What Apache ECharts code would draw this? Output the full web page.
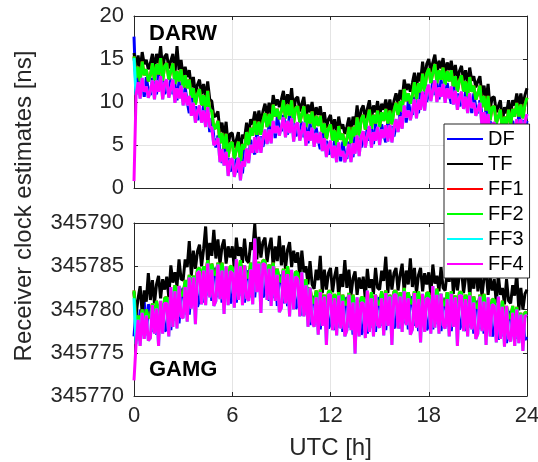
<!DOCTYPE html>
<html><head><meta charset="utf-8">
<script src="https://cdn.jsdelivr.net/npm/echarts@6/dist/echarts.min.js"></script>
<style>html,body{margin:0;padding:0;background:#fff}#c{width:538px;height:462px}</style>
</head><body><div id="c"></div>
<script>
// ---------------- data ----------------
const SERIES_NAMES = ['DF', 'TF', 'FF1', 'FF2', 'FF3', 'FF4'];
const HOUR_TICKS = [0, 6, 12, 18, 24];
const DARW_TICKS = [0, 5, 10, 15, 20];
const GAMG_TICKS = [345770, 345775, 345780, 345785, 345790];
const SAMPLE_STEP_H = 0.125;      // one sample every 7.5 min, 0..24 h
const GAMG_BASE = 345770;         // GAMG arrays are given above this value [ns]

// DARW [ns], one row per hour (8 samples) + final sample at 24 h
const darwDF = [
17.6,10.9,12.9,11.1,12.4,10.6,12.9,11.4, 10.8,12.8,11.6,10.9,13.4,11.7,12.4,10.9,
11.9,10.8,12.7,10.9,12.1,10.2,12.4,10.8, 10.1,11.7,10.0,8.7,10.8,8.9,9.5,7.9,
8.8,7.7,9.6,7.8,9.0,6.5,8.1,5.9, 4.7,6.1,4.3,2.9,4.8,2.9,3.5,1.9,
2.7,1.6,3.5,1.8,3.1,1.7,4.5,3.5, 3.4,5.6,4.5,3.9,6.5,5.0,6.0,4.8,
6.0,5.2,7.4,5.9,7.4,5.8,8.3,7.0, 6.6,8.5,7.2,6.2,8.6,6.8,7.5,6.0,
6.9,5.8,7.7,5.9,7.1,5.2,7.5,5.9, 5.3,7.0,5.6,4.5,6.7,4.8,5.5,3.9,
4.7,3.6,5.5,3.7,4.9,3.1,5.4,3.9, 3.4,5.4,4.3,3.6,6.2,4.8,5.8,4.7,
5.9,5.0,7.1,5.5,6.9,5.1,7.5,6.0, 5.5,7.4,6.2,5.3,7.8,6.3,7.2,6.0,
7.2,6.6,8.9,7.6,9.2,7.6,10.1,8.8, 8.5,10.6,9.4,8.7,11.3,9.9,11.1,10.0,
11.3,10.4,12.5,10.8,12.2,10.3,12.6,11.0, 10.4,12.2,10.8,9.8,12.1,10.3,11.0,9.5,
10.4,9.3,11.2,9.4,10.6,8.7,11.0,9.3, 8.7,10.2,8.5,7.2,9.2,7.3,7.8,6.1,
6.9,5.7,7.4,5.5,6.6,4.9,7.4,6.1, 5.7,7.8,6.7,6.0,8.6,7.0,7.9,6.7,
7.8];
const darwTF = [
15.7,14.1,15.4,13.7,15.8,14.4,14.9,13.8, 14.5,15.6,13.8,15.6,14.5,16.5,13.8,15.3,
15.6,13.9,14.8,15.6,13.2,16.5,13.7,14.9, 12.9,14.1,12.9,13.7,11.7,12.9,11.0,12.0,
12.6,10.9,12.1,10.4,12.4,10.3,10.1,8.3, 8.4,8.9,6.5,7.6,5.9,7.7,4.9,6.3,
6.4,4.7,5.6,6.5,4.2,6.2,5.8,7.6, 6.2,8.0,7.4,8.9,7.4,9.0,7.5,8.9,
9.8,8.4,9.9,8.5,10.8,9.6,10.3,9.4, 10.3,11.3,9.4,10.9,9.7,11.6,8.9,10.4,
10.6,8.9,9.8,10.6,8.2,9.7,8.8,10.0, 8.1,9.4,8.5,9.5,7.6,8.8,7.0,8.0,
8.5,6.8,8.0,6.3,8.3,6.9,7.4,6.3, 7.1,8.2,6.5,8.3,7.3,9.6,7.2,9.1,
9.6,8.1,9.2,10.2,8.0,9.6,8.8,10.1, 8.3,9.8,9.1,10.3,8.7,10.3,8.7,10.1,
11.0,9.8,11.4,10.2,12.6,11.4,12.1,11.2, 12.2,13.4,11.6,13.4,12.4,14.7,12.5,14.4,
15.0,13.5,14.6,15.5,13.3,14.8,13.9,15.1, 13.2,14.6,13.7,14.8,13.0,14.3,12.5,13.6,
14.2,12.5,13.7,12.0,14.0,12.5,13.0,11.7, 12.4,13.0,10.7,11.9,10.3,12.1,9.2,10.5,
10.6,8.8,9.5,10.2,7.7,9.4,8.7,10.2, 8.5,10.2,9.6,11.0,9.5,11.0,9.4,10.8,
11.6];
// FF1 is never visible in the reference: it lies under FF2
const darwFF1 = [
15.3,12.8,14.1,12.4,14.7,13.1,13.8,12.4, 13.1,14.5,12.5,14.4,13.2,15.1,12.5,14.2,
14.5,12.6,13.6,14.5,12.1,13.6,12.4,13.8, 11.7,13.1,11.6,12.6,10.5,11.6,9.7,10.9,
11.5,9.6,10.8,9.1,11.3,9.0,9.0,6.9, 7.0,7.8,5.2,6.4,4.6,6.3,3.6,5.2,
5.3,3.4,4.4,5.4,3.1,5.1,4.5,6.5, 5.0,7.0,6.1,7.8,6.2,7.7,6.2,7.8,
8.7,7.1,8.6,7.2,9.7,8.3,9.2,8.0, 8.9,10.2,8.1,9.7,8.4,10.2,7.6,9.3,
9.5,7.6,8.6,9.5,7.1,8.6,7.5,8.9, 6.9,8.4,7.2,8.4,6.4,7.5,5.7,6.9,
7.4,5.5,6.7,5.0,7.2,5.6,6.3,4.9, 5.7,7.1,5.2,7.1,6.0,8.2,5.9,8.0,
8.5,6.8,8.0,9.1,6.9,8.5,7.5,9.0, 7.1,8.8,7.8,9.2,7.5,9.0,7.4,9.0,
9.9,8.5,10.1,8.9,11.5,10.1,11.0,9.8, 10.8,12.3,10.3,12.2,11.1,13.3,11.2,13.3,
13.9,12.2,13.4,14.4,12.2,13.7,12.6,14.0, 12.0,13.6,12.4,13.7,11.8,13.0,11.2,12.5,
13.1,11.2,12.4,10.7,12.9,11.2,11.9,10.3, 11.0,11.9,9.4,10.7,9.0,10.7,7.9,9.4,
9.5,7.5,8.3,9.1,6.6,8.3,7.4,9.1, 7.3,9.2,8.3,9.9,8.3,9.7,8.1,9.7,
10.5];
const darwFF2 = [
15.3,12.8,14.1,12.4,14.7,13.1,13.8,12.4, 13.1,14.5,12.5,14.4,13.2,15.1,12.5,14.2,
14.5,12.6,13.6,14.5,12.1,13.6,12.4,13.8, 11.7,13.1,11.6,12.6,10.5,11.6,9.7,10.9,
11.5,9.6,10.8,9.1,11.3,9.0,9.0,6.9, 7.0,7.8,5.2,6.4,4.6,6.3,3.6,5.2,
5.3,3.4,4.4,5.4,3.1,5.1,4.5,6.5, 5.0,7.0,6.1,7.8,6.2,7.7,6.2,7.8,
8.7,7.1,8.6,7.2,9.7,8.3,9.2,8.0, 8.9,10.2,8.1,9.7,8.4,10.2,7.6,9.3,
9.5,7.6,8.6,9.5,7.1,8.6,7.5,8.9, 6.9,8.4,7.2,8.4,6.4,7.5,5.7,6.9,
7.4,5.5,6.7,5.0,7.2,5.6,6.3,4.9, 5.7,7.1,5.2,7.1,6.0,8.2,5.9,8.0,
8.5,6.8,8.0,9.1,6.9,8.5,7.5,9.0, 7.1,8.8,7.8,9.2,7.5,9.0,7.4,9.0,
9.9,8.5,10.1,8.9,11.5,10.1,11.0,9.8, 10.8,12.3,10.3,12.2,11.1,13.3,11.2,13.3,
13.9,12.2,13.4,14.4,12.2,13.7,12.6,14.0, 12.0,13.6,12.4,13.7,11.8,13.0,11.2,12.5,
13.1,11.2,12.4,10.7,12.9,11.2,11.9,10.3, 11.0,11.9,9.4,10.7,9.0,10.7,7.9,9.4,
9.5,7.5,8.3,9.1,6.6,8.3,7.4,9.1, 7.3,9.2,8.3,9.9,8.3,9.7,8.1,9.7,
10.5];
// FF3 only shows at the start; afterwards it lies under FF4
const darwFF3 = [
15.1,10.8,12.3,10.4,12.8,11.2,11.8,10.5, 11.3,12.5,10.3,12.5,11.2,13.0,10.3,12.2,
12.6,10.5,11.6,12.6,9.9,11.6,10.4,11.9, 9.6,11.1,9.6,10.7,8.4,9.9,7.6,8.9,
9.6,7.6,9.0,7.1,9.4,7.1,7.0,5.0, 5.2,5.8,3.0,4.5,2.6,4.2,1.4,3.2,
3.4,1.3,2.4,3.5,0.9,3.1,2.5,4.6, 2.9,5.0,4.1,5.9,4.1,6.0,4.1,5.8,
6.8,5.1,6.8,5.2,7.8,6.4,7.2,6.1, 7.1,8.2,5.9,7.8,6.4,8.1,5.4,7.3,
7.6,5.5,6.6,7.6,4.9,6.6,5.5,7.0, 4.8,6.4,5.2,6.5,4.3,5.8,3.6,4.9,
5.5,3.5,4.9,3.0,5.3,3.7,4.3,3.0, 3.9,5.1,3.0,5.2,4.0,6.1,3.7,6.0,
6.6,4.7,6.0,7.2,4.7,6.5,5.5,7.1, 5.0,6.8,5.8,7.3,5.4,7.3,5.3,7.0,
8.0,6.5,8.3,6.9,9.6,8.2,9.0,7.9, 9.0,10.3,8.1,10.3,9.1,11.2,9.0,11.3,
12.0,10.1,11.4,12.5,10.0,11.7,10.6,12.1, 9.9,11.6,10.4,11.8,9.7,11.3,9.1,10.5,
11.2,9.2,10.6,8.7,11.0,9.3,9.9,8.4, 9.2,9.9,7.2,8.8,7.0,8.6,5.7,7.4,
7.6,5.4,6.3,7.2,4.4,6.3,5.4,7.2, 5.2,7.2,6.3,8.0,6.2,8.0,6.0,7.7,
8.6];
const darwFF4 = [
0.8,10.8,12.3,10.4,12.8,11.2,11.8,10.5, 11.3,12.5,10.3,12.5,11.2,13.0,10.3,12.2,
12.6,10.5,11.6,12.6,9.9,11.6,10.4,11.9, 9.6,11.1,9.6,10.7,8.4,9.9,7.6,8.9,
9.6,7.6,9.0,7.1,9.4,7.1,7.0,5.0, 5.2,5.8,3.0,4.5,2.6,4.2,1.4,3.2,
3.4,1.3,2.4,3.5,0.9,3.1,2.5,4.6, 2.9,5.0,4.1,5.9,4.1,6.0,4.1,5.8,
6.8,5.1,6.8,5.2,7.8,6.4,7.2,6.1, 7.1,8.2,5.9,7.8,6.4,8.1,5.4,7.3,
7.6,5.5,6.6,7.6,4.9,6.6,5.5,7.0, 4.8,6.4,5.2,6.5,4.3,5.8,3.6,4.9,
5.5,3.5,4.9,3.0,5.3,3.7,4.3,3.0, 3.9,5.1,3.0,5.2,4.0,6.1,3.7,6.0,
6.6,4.7,6.0,7.2,4.7,6.5,5.5,7.1, 5.0,6.8,5.8,7.3,5.4,7.3,5.3,7.0,
8.0,6.5,8.3,6.9,9.6,8.2,9.0,7.9, 9.0,10.3,8.1,10.3,9.1,11.2,9.0,11.3,
12.0,10.1,11.4,12.5,10.0,11.7,10.6,12.1, 9.9,11.6,10.4,11.8,9.7,11.3,9.1,10.5,
11.2,9.2,10.6,8.7,11.0,9.3,9.9,8.4, 9.2,9.9,7.2,8.8,7.0,8.6,5.7,7.4,
7.6,5.4,6.3,7.2,4.4,6.3,5.4,7.2, 5.2,7.2,6.3,8.0,6.2,8.0,6.0,7.7,
8.6];

// GAMG [ns above GAMG_BASE]
const gamgDF = [
6.9,10.1,6.4,10.0,7.2,10.9,7.0,10.6, 10.0,7.4,10.4,7.1,9.8,7.8,10.5,7.5,
7.7,11.1,7.6,11.3,8.7,12.4,8.4,11.8, 12.5,9.4,13.2,9.4,12.9,10.5,13.8,10.3,
11.1,14.4,10.8,14.4,11.6,15.1,11.0,14.3, 14.8,11.4,14.9,10.8,14.0,11.3,14.3,10.7,
11.2,14.4,10.8,14.4,11.6,15.1,10.8,14.0, 14.5,11.4,15.2,11.4,14.8,12.1,15.1,11.4,
11.9,14.9,11.0,14.3,11.3,14.7,10.4,13.6, 14.0,10.7,14.4,10.4,13.7,10.9,13.8,10.1,
10.5,13.4,9.3,12.5,9.4,12.6,8.2,11.2, 11.5,8.2,11.7,7.7,10.9,8.3,11.4,7.8,
8.4,11.4,7.6,10.9,7.9,11.5,7.4,10.8, 11.4,7.9,11.3,7.1,10.3,7.7,10.7,7.1,
7.7,10.9,7.2,10.7,7.9,11.5,7.4,10.8, 11.4,8.1,11.6,7.6,10.9,8.3,11.4,7.8,
8.4,11.6,7.8,11.3,8.4,11.9,7.7,11.0, 11.5,8.1,11.6,7.5,10.7,8.1,11.2,7.6,
8.2,11.4,7.7,11.2,8.3,11.8,7.5,10.8, 11.3,8.0,11.5,7.5,10.8,8.2,11.3,7.7,
8.3,11.3,7.5,10.8,7.9,11.4,7.2,10.5, 11.0,7.7,11.2,7.2,10.4,7.7,10.7,6.9,
7.4,10.4,6.5,9.9,6.9,10.3,6.1,9.3, 9.8,6.9,9.9,6.6,8.9,6.9,9.1,6.5,
6.8];
const gamgTF = [
12.0,9.4,11.3,12.7,9.5,12.2,10.9,14.2, 11.1,13.4,10.7,12.9,13.9,11.3,13.5,12.3,
13.8,11.4,15.1,13.1,14.3,12.7,15.8,13.5, 13.4,15.8,14.9,17.9,13.9,16.8,14.7,16.7,
17.5,15.0,17.0,19.6,15.2,17.7,16.2,19.2, 15.9,18.1,15.2,17.3,18.1,15.3,17.3,16.0,
17.3,14.7,18.3,16.2,17.2,15.4,18.2,15.7, 15.4,17.8,16.9,19.9,15.8,18.4,16.0,17.8,
18.3,15.5,17.2,18.3,14.9,17.3,15.6,18.5, 15.1,17.4,14.7,16.9,17.8,14.9,16.8,15.4,
16.6,13.7,16.8,14.3,15.0,12.9,15.6,12.9, 12.4,14.6,13.4,16.2,11.9,14.6,12.3,14.2,
14.8,12.0,13.8,14.9,11.5,14.1,12.6,15.7, 12.5,14.6,11.6,13.6,14.4,11.7,13.7,12.4,
13.8,11.2,14.7,12.5,13.5,11.8,14.8,12.5, 12.3,14.5,13.3,16.1,11.9,14.6,12.3,14.2,
14.8,12.2,14.0,15.3,12.0,14.5,12.9,15.9, 12.6,14.8,11.9,14.0,14.8,12.1,14.2,12.9,
14.3,11.7,15.2,13.0,13.9,12.1,14.9,12.5, 12.2,14.4,13.2,16.0,11.8,14.5,12.2,14.1,
14.7,11.9,13.7,14.8,11.5,14.0,12.4,15.4, 12.1,14.4,11.5,13.7,14.5,11.7,13.7,12.2,
13.5,10.7,14.0,11.7,12.5,10.6,13.5,11.0, 10.7,12.8,11.6,14.2,9.9,12.5,10.0,11.8,
12.3];
// FF1 is never visible in the reference: it lies under FF2
const gamgFF1 = [
12.2,7.7,9.3,8.3,10.0,8.2,10.0,9.1, 9.2,10.7,9.1,11.0,9.5,10.7,9.5,11.3,
11.4,10.0,11.8,10.9,12.8,11.0,12.7,11.6, 11.7,13.4,11.9,14.0,12.6,13.9,12.8,14.6,
14.8,13.3,15.0,14.0,15.7,13.7,15.3,14.1, 14.0,15.4,13.6,15.4,13.7,14.7,13.3,15.0,
14.9,13.3,15.0,14.0,15.7,13.7,15.1,13.8, 13.7,15.4,13.9,16.0,14.5,15.5,14.1,15.7,
15.6,13.8,15.2,13.9,15.4,13.3,14.7,13.4, 13.2,14.7,13.1,15.0,13.4,14.3,12.8,14.4,
14.2,12.3,13.5,12.1,13.5,11.2,12.5,11.0, 10.7,12.2,10.4,12.3,10.6,11.7,10.4,12.1,
12.1,10.3,11.8,10.5,12.0,10.1,11.7,10.6, 10.6,11.9,10.0,11.7,10.0,11.1,9.7,11.4,
11.4,9.8,11.4,10.3,12.0,10.1,11.7,10.6, 10.6,12.1,10.3,12.2,10.6,11.7,10.4,12.1,
12.1,10.5,12.0,10.9,12.5,10.5,12.0,10.8, 10.7,12.1,10.3,12.1,10.4,11.5,10.2,11.9,
11.9,10.3,11.9,10.8,12.4,10.4,11.8,10.6, 10.5,12.0,10.2,12.1,10.5,11.6,10.3,12.0,
12.0,10.2,11.7,10.4,12.0,10.0,11.5,10.3, 10.2,11.7,9.9,11.8,10.1,11.1,9.7,11.2,
11.1,9.3,10.7,9.5,11.0,8.9,10.4,9.1, 9.0,10.4,8.6,10.3,8.6,9.6,8.1,9.7,
9.6];
const gamgFF2 = [
12.2,7.7,9.3,8.3,10.0,8.2,10.0,9.1, 9.2,10.7,9.1,11.0,9.5,10.7,9.5,11.3,
11.4,10.0,11.8,10.9,12.8,11.0,12.7,11.6, 11.7,13.4,11.9,14.0,12.6,13.9,12.8,14.6,
14.8,13.3,15.0,14.0,15.7,13.7,15.3,14.1, 14.0,15.4,13.6,15.4,13.7,14.7,13.3,15.0,
14.9,13.3,15.0,14.0,15.7,13.7,15.1,13.8, 13.7,15.4,13.9,16.0,14.5,15.5,14.1,15.7,
15.6,13.8,15.2,13.9,15.4,13.3,14.7,13.4, 13.2,14.7,13.1,15.0,13.4,14.3,12.8,14.4,
14.2,12.3,13.5,12.1,13.5,11.2,12.5,11.0, 10.7,12.2,10.4,12.3,10.6,11.7,10.4,12.1,
12.1,10.3,11.8,10.5,12.0,10.1,11.7,10.6, 10.6,11.9,10.0,11.7,10.0,11.1,9.7,11.4,
11.4,9.8,11.4,10.3,12.0,10.1,11.7,10.6, 10.6,12.1,10.3,12.2,10.6,11.7,10.4,12.1,
12.1,10.5,12.0,10.9,12.5,10.5,12.0,10.8, 10.7,12.1,10.3,12.1,10.4,11.5,10.2,11.9,
11.9,10.3,11.9,10.8,12.4,10.4,11.8,10.6, 10.5,12.0,10.2,12.1,10.5,11.6,10.3,12.0,
12.0,10.2,11.7,10.4,12.0,10.0,11.5,10.3, 10.2,11.7,9.9,11.8,10.1,11.1,9.7,11.2,
11.1,9.3,10.7,9.5,11.0,8.9,10.4,9.1, 9.0,10.4,8.6,10.3,8.6,9.6,8.1,9.7,
9.6];
// FF3 only shows at the start; afterwards it lies under FF4
const gamgFF3 = [
11.3,6.0,8.8,5.8,9.6,6.6,9.3,6.4, 6.7,10.5,7.2,10.1,5.8,11.0,7.2,10.7,
10.7,6.9,12.6,8.0,12.1,7.8,12.7,9.2, 9.0,12.6,8.6,13.7,10.1,13.7,8.3,14.2,
14.4,10.6,14.5,10.5,15.3,11.4,14.6,10.4, 11.0,15.2,11.2,14.5,9.5,15.0,10.5,14.4,
14.2,10.2,15.8,11.1,15.0,10.5,15.1,11.4, 11.0,14.6,10.6,18.2,12.0,15.3,9.6,15.3,
15.2,11.1,14.7,10.4,15.0,11.0,14.0,9.7, 10.2,14.5,10.7,14.1,9.2,14.6,10.0,13.8,
13.5,9.2,14.3,9.2,12.8,8.0,12.5,8.6, 8.0,11.4,7.1,12.0,8.1,11.5,5.9,11.7,
11.7,7.6,11.3,7.0,11.6,7.8,11.0,6.9, 7.6,11.7,7.6,10.8,4.9,11.4,6.9,10.8,
10.7,6.7,12.2,7.4,11.3,6.9,11.7,8.2, 7.9,11.3,7.0,11.9,8.1,11.5,5.9,11.7,
11.7,7.8,11.5,7.4,12.1,8.2,11.3,7.1, 7.7,11.9,7.9,11.2,6.2,11.8,7.4,11.3,
11.2,7.2,12.7,7.9,11.7,7.2,11.8,8.2, 7.8,11.2,6.9,11.8,8.0,11.4,5.8,11.6,
11.6,7.5,11.2,6.9,11.6,7.7,10.8,6.6, 7.2,11.5,7.5,10.9,5.9,11.4,6.9,10.6,
10.4,6.2,11.5,6.6,10.3,5.7,10.4,6.7, 6.3,9.6,5.8,10.0,6.1,9.4,5.2,9.3,
9.2];
const gamgFF4 = [
1.8,6.0,8.8,5.8,9.6,6.6,9.3,6.4, 6.7,10.5,7.2,10.1,5.8,11.0,7.2,10.7,
10.7,6.9,12.6,8.0,12.1,7.8,12.7,9.2, 9.0,12.6,8.6,13.7,10.1,13.7,8.3,14.2,
14.4,10.6,14.5,10.5,15.3,11.4,14.6,10.4, 11.0,15.2,11.2,14.5,9.5,15.0,10.5,14.4,
14.2,10.2,15.8,11.1,15.0,10.5,15.1,11.4, 11.0,14.6,10.6,18.2,12.0,15.3,9.6,15.3,
15.2,11.1,14.7,10.4,15.0,11.0,14.0,9.7, 10.2,14.5,10.7,14.1,9.2,14.6,10.0,13.8,
13.5,9.2,14.3,9.2,12.8,8.0,12.5,8.6, 8.0,11.4,7.1,12.0,8.1,11.5,5.9,11.7,
11.7,7.6,11.3,7.0,11.6,7.8,11.0,6.9, 7.6,11.7,7.6,10.8,4.9,11.4,6.9,10.8,
10.7,6.7,12.2,7.4,11.3,6.9,11.7,8.2, 7.9,11.3,7.0,11.9,8.1,11.5,5.9,11.7,
11.7,7.8,11.5,7.4,12.1,8.2,11.3,7.1, 7.7,11.9,7.9,11.2,6.2,11.8,7.4,11.3,
11.2,7.2,12.7,7.9,11.7,7.2,11.8,8.2, 7.8,11.2,6.9,11.8,8.0,11.4,5.8,11.6,
11.6,7.5,11.2,6.9,11.6,7.7,10.8,6.6, 7.2,11.5,7.5,10.9,5.9,11.4,6.9,10.6,
10.4,6.2,11.5,6.6,10.3,5.7,10.4,6.7, 6.3,9.6,5.8,10.0,6.1,9.4,5.2,9.3,
9.2];

// ---------------- styles ----------------
const COLORS = {DF: '#0000ff', TF: '#000000', FF1: '#ff0000', FF2: '#00ff00', FF3: '#00ffff', FF4: '#ff00ff'};
const FONT = '"Liberation Sans", Arial, Helvetica, sans-serif';
const AX = '#262626';
const GRIDC = '#e4e4e4';
const TRACE_WIDTH = 3;

const darwData = {DF: darwDF, TF: darwTF, FF1: darwFF1, FF2: darwFF2, FF3: darwFF3, FF4: darwFF4};
const gamgData = {DF: gamgDF, TF: gamgTF, FF1: gamgFF1, FF2: gamgFF2, FF3: gamgFF3, FF4: gamgFF4};

function pairs(arr, base) {
  return arr.map((v, i) => [i * SAMPLE_STEP_H, base + v]);
}

const series = [];
[[darwData, 0, 0, 0], [gamgData, 2, 2, GAMG_BASE]].forEach(([set, xi, yi, base]) => {
  SERIES_NAMES.forEach(n => {
    series.push({
      type: 'line', name: n, xAxisIndex: xi, yAxisIndex: yi,
      data: pairs(set[n], base),
      color: COLORS[n], itemStyle: {color: COLORS[n]},
      lineStyle: {color: COLORS[n], width: TRACE_WIDTH, join: 'bevel'},
      showSymbol: false, symbol: 'none', silent: true, animation: false,
      emphasis: {disabled: true}, clip: true
    });
  });
});

function xAx(grid, pos, labels, split) {
  return {
    type: 'value', gridIndex: grid, position: pos,
    min: HOUR_TICKS[0], max: HOUR_TICKS[HOUR_TICKS.length - 1], interval: HOUR_TICKS[1] - HOUR_TICKS[0],
    axisLine: {show: true, onZero: false, lineStyle: {color: AX, width: 1}},
    axisTick: {show: true, inside: true, length: 4, lineStyle: {color: AX, width: 1}},
    axisLabel: {show: labels, fontSize: 22, fontFamily: FONT, color: AX, margin: 9,
                formatter: v => String(v)},
    splitLine: {show: split, lineStyle: {color: GRIDC, width: 1}},
    name: labels ? 'UTC [h]' : '', nameLocation: 'middle', nameGap: 40,
    nameTextStyle: {fontSize: 24, fontFamily: FONT, color: AX}
  };
}
function yAx(grid, pos, ticks, labels, split) {
  return {
    type: 'value', gridIndex: grid, position: pos,
    min: ticks[0], max: ticks[ticks.length - 1], interval: ticks[1] - ticks[0],
    axisLine: {show: true, onZero: false, lineStyle: {color: AX, width: 1}},
    axisTick: {show: true, inside: true, length: 4, lineStyle: {color: AX, width: 1}},
    axisLabel: {show: labels, fontSize: 22, fontFamily: FONT, color: AX, margin: 10,
                formatter: v => String(v)},
    splitLine: {show: split, lineStyle: {color: GRIDC, width: 1}}
  };
}

const chart = echarts.init(document.getElementById('c'), null, {renderer: 'canvas'});
chart.setOption({
  backgroundColor: '#ffffff',
  animation: false,
  textStyle: {fontFamily: FONT},
  grid: [
    {left: 134, top: 16, width: 393, height: 172, containLabel: false, outerBoundsMode: 'none'},
    {left: 134, top: 223, width: 393, height: 173, containLabel: false, outerBoundsMode: 'none'}
  ],
  xAxis: [xAx(0, 'bottom', false, true), xAx(0, 'top', false, false),
          xAx(1, 'bottom', true, true), xAx(1, 'top', false, false)],
  yAxis: [yAx(0, 'left', DARW_TICKS, true, true), yAx(0, 'right', DARW_TICKS, false, false),
          yAx(1, 'left', GAMG_TICKS, true, true), yAx(1, 'right', GAMG_TICKS, false, false)],
  legend: {
    data: SERIES_NAMES, orient: 'vertical', left: 444, top: 124,
    padding: [5, 6, 4, 3], itemGap: 5, itemWidth: 36, itemHeight: 2, icon: 'rect',
    backgroundColor: '#ffffff', borderColor: AX, borderWidth: 1, borderRadius: 0,
    textStyle: {fontSize: 20, fontFamily: FONT, color: '#000000'},
    selectedMode: false, z: 10
  },
  graphic: [
    {type: 'text', x: 149, y: 34, z: 20,
     style: {text: 'DARW', font: 'bold 22px ' + FONT, fill: '#000', align: 'left', verticalAlign: 'middle'}},
    {type: 'text', x: 149, y: 370, z: 20,
     style: {text: 'GAMG', font: 'bold 22px ' + FONT, fill: '#000', align: 'left', verticalAlign: 'middle'}},
    {type: 'text', x: 24, y: 206, rotation: Math.PI / 2, z: 20,
     style: {text: 'Receiver clock estimates [ns]', font: '24px ' + FONT, fill: AX, align: 'center', verticalAlign: 'middle'}}
  ],
  series: series
});
</script>
</body></html>
